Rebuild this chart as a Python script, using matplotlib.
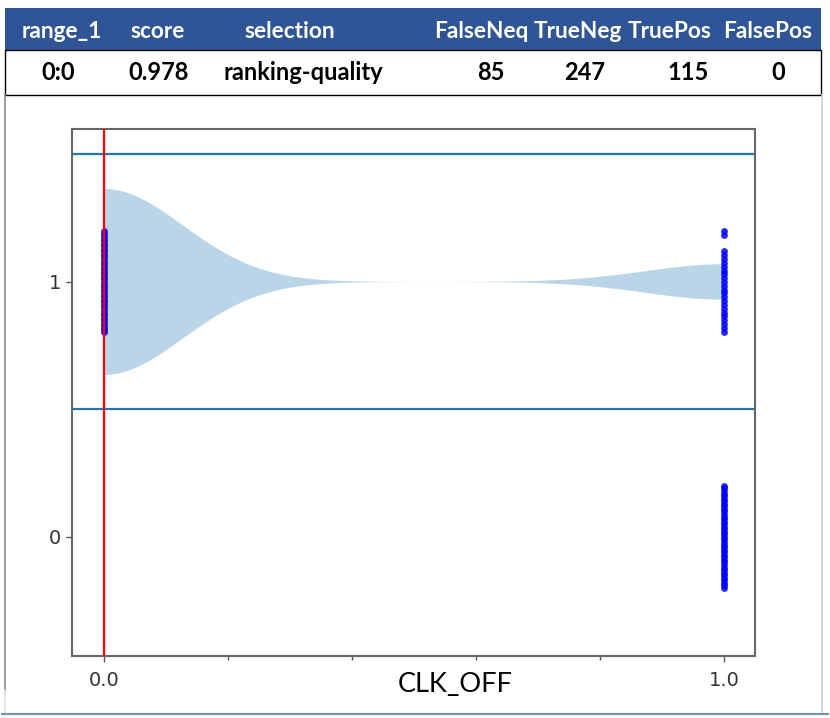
"""
Violin of CLK_OFF by class, with the summary row above it.
"""

import numpy as np
import matplotlib.pyplot as plt
from matplotlib.patches import Rectangle
from matplotlib.lines import Line2D

# table
header = ['range_1', 'score', 'selection', 'FalseNeq', 'TrueNeg', 'TruePos', 'FalsePos']
row = ['0:0', '0.978', 'ranking-quality', '85', '247', '115', '0']

# class 1: how many CLK_OFF values are 0 and 1
clk_values = [0.0, 1.0]
class1_counts = [168, 32]

# strip points (offset from class position)
class1_at0_offsets = [0.20, 0.19, 0.18, 0.17, 0.16, 0.15, 0.14, 0.13, 0.12, 0.11, 0.10,
                      0.09, 0.08, 0.07, 0.06, 0.05, 0.04, 0.03, 0.02, 0.01, 0.00,
                      -0.01, -0.02, -0.03, -0.04, -0.05, -0.06, -0.07, -0.08, -0.09, -0.10,
                      -0.11, -0.12, -0.13, -0.14, -0.15, -0.16, -0.17, -0.18, -0.19, -0.195]
class1_at1_offsets = [0.20, 0.185, 0.12, 0.105, 0.09, 0.075, 0.06, 0.045, 0.03, 0.015, 0.00,
                      -0.015, -0.03, -0.045, -0.06, -0.075, -0.09, -0.105, -0.12, -0.135,
                      -0.15, -0.165, -0.18, -0.195]
class0_at1_offsets = [0.20, 0.19, 0.18, 0.17, 0.16, 0.15, 0.14, 0.13, 0.12, 0.11, 0.10,
                      0.09, 0.08, 0.07, 0.06, 0.05, 0.04, 0.03, 0.02, 0.01, 0.00,
                      -0.01, -0.02, -0.03, -0.04, -0.05, -0.06, -0.07, -0.08, -0.09, -0.10,
                      -0.11, -0.12, -0.13, -0.14, -0.15, -0.16, -0.17, -0.18, -0.19, -0.20]

threshold = 0.0
class_bounds = [0.5, 1.5]

W, H = 830, 718
fig = plt.figure(figsize=(W / 100, H / 100), dpi=100)

def fx(px):
    return px / W

def fy(py):
    return 1 - py / H

# table header + row
fig.patches.append(Rectangle((fx(5), fy(50)), fx(816), 42 / H, transform=fig.transFigure,
                             facecolor='#2F5597', edgecolor='none'))
fig.patches.append(Rectangle((fx(5), fy(95)), fx(816), 45 / H, transform=fig.transFigure,
                             facecolor='none', edgecolor='black', linewidth=1))
head_x = [62, 158, 290, 481, 578, 670, 768]
row_x = [58, 159, 303, 491, 585, 688, 778]
for txt, x in zip(header, head_x):
    fig.text(fx(x), fy(31), txt, color='white', fontsize=16.3, fontweight='bold',
             family='Lato', ha='center', va='center')
for txt, x in zip(row, row_x):
    fig.text(fx(x), fy(72), txt, color='black', fontsize=17, fontweight='bold',
             family='Lato', ha='center', va='center')

# frame round the chart
fig.lines.append(Line2D([fx(5), fx(5)], [fy(95), fy(690)], transform=fig.transFigure,
                        color='#888888', linewidth=1.2))
fig.lines.append(Line2D([fx(5), fx(5)], [fy(690), fy(712)], transform=fig.transFigure,
                        color='#dddddd', linewidth=1.2))
fig.lines.append(Line2D([fx(822), fx(822)], [fy(95), fy(712)], transform=fig.transFigure,
                        color='#d0d0d0', linewidth=1.2))
fig.lines.append(Line2D([fx(2), fx(828)], [fy(714), fy(714)], transform=fig.transFigure,
                        color='#7090c0', linewidth=1.5))

ax = fig.add_axes([fx(72), 62 / H, fx(683), 527 / H])

data1 = np.repeat(clk_values, class1_counts)
parts = ax.violinplot([data1], positions=[1], widths=0.73, orientation='horizontal',
                      showextrema=False)
for body in parts['bodies']:
    body.set_facecolor('#1f77b4')
    body.set_edgecolor('none')
    body.set_alpha(0.3)

pt = dict(color='#0000ff', s=24, alpha=0.85, linewidths=0, zorder=3)
ax.scatter([0.0] * len(class1_at0_offsets), 1 + np.array(class1_at0_offsets), **pt)
ax.scatter([1.0] * len(class1_at1_offsets), 1 + np.array(class1_at1_offsets), **pt)
ax.scatter([1.0] * len(class0_at1_offsets), 0 + np.array(class0_at1_offsets), **pt)

for b in class_bounds:
    ax.axhline(b, color='#1f77b4', linewidth=1.6)
ax.axvline(threshold, color='red', linewidth=1.6, zorder=4)

ax.set_xlim(-0.052, 1.05)
ax.set_ylim(-0.467, 1.6)
ax.set_xticks([0, 1])
ax.set_xticklabels(['0.0', '1.0'])
ax.set_xticks([0.2, 0.4, 0.6, 0.8], minor=True)
ax.set_yticks([0, 1])
ax.tick_params(axis='both', which='major', length=4.5, width=1, color='#555555',
               labelsize=14, labelcolor='#333333')
ax.tick_params(axis='x', which='major', pad=6)
ax.tick_params(axis='x', which='minor', length=3, width=1, color='#555555')
for sp in ax.spines.values():
    sp.set_color('#666666')
    sp.set_linewidth(1.5)

ax.set_xlabel('CLK_OFF', fontsize=19.5, family='Lato', color='black')
ax.xaxis.set_label_coords(0.561, -0.03)

fig.savefig('out.png', dpi=100)
